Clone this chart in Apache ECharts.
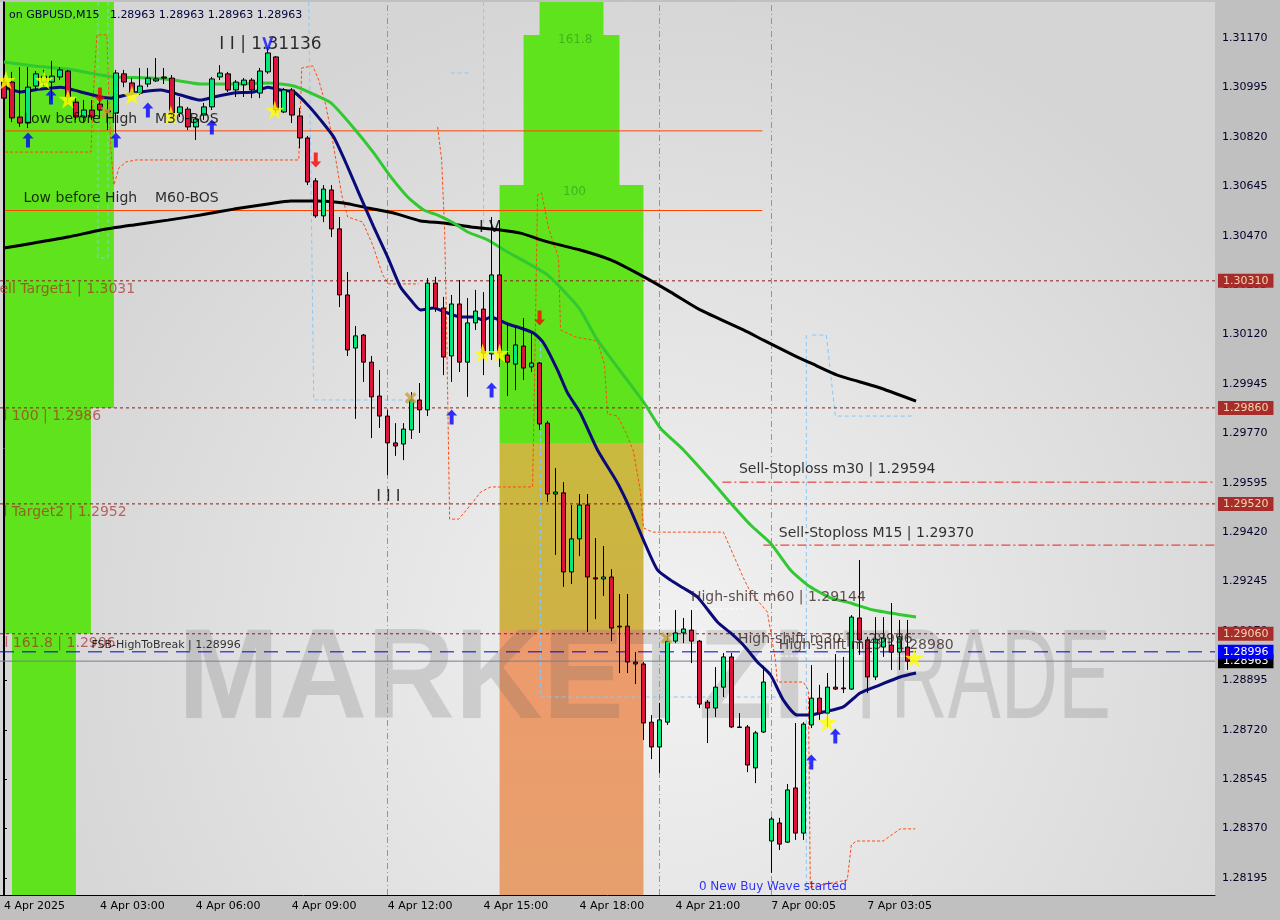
<!DOCTYPE html>
<html><head><meta charset="utf-8">
<script src="https://cdn.jsdelivr.net/npm/echarts@6/dist/echarts.min.js"></script>
<style>html,body{margin:0;padding:0;background:#c0c0c0}#c{width:1280px;height:920px}</style>
</head><body><div id="c"></div><script>
// ---------------- DATA ----------------
const timeTicks = [[0,'4 Apr 2025'],[12,'4 Apr 03:00'],[24,'4 Apr 06:00'],[36,'4 Apr 09:00'],[48,'4 Apr 12:00'],[60,'4 Apr 15:00'],[72,'4 Apr 18:00'],[84,'4 Apr 21:00'],[96,'7 Apr 00:05'],[108,'7 Apr 03:05']];
const slotCount = 152;
const priceTicks = [1.28195,1.28370,1.28545,1.28720,1.28895,1.29070,1.29245,1.29420,1.29595,1.29770,1.29945,1.30120,1.30295,1.30470,1.30645,1.30820,1.30995,1.31170];
const priceRange = [1.281348, 1.312975];
// [open, close, low, high]
const candles = [
[1.31014,1.30957,1.30933,1.31050],[1.31014,1.30887,1.30872,1.31050],[1.30890,1.30869,1.30855,1.31067],[1.30869,1.30996,1.30851,1.31067],
[1.31000,1.31043,1.30986,1.31053],[1.31014,1.31035,1.31000,1.31057],[1.31014,1.31035,1.30950,1.31089],[1.31032,1.31057,1.31021,1.31067],
[1.31053,1.30961,1.30940,1.31057],[1.30943,1.30890,1.30880,1.30961],[1.30890,1.30915,1.30869,1.30950],[1.30915,1.30890,1.30880,1.30950],
[1.30936,1.30915,1.30887,1.30968],[1.30915,1.30908,1.30844,1.30950],[1.30904,1.31046,1.30834,1.31057],[1.31043,1.31014,1.30996,1.31057],
[1.31011,1.30979,1.30968,1.31028],[1.30975,1.31000,1.30968,1.31064],[1.31007,1.31028,1.30996,1.31064],[1.31018,1.31025,1.31014,1.31099],
[1.31032,1.31028,1.31007,1.31064],[1.31028,1.30904,1.30890,1.31039],[1.30904,1.30926,1.30890,1.30961],[1.30918,1.30855,1.30844,1.30926],
[1.30855,1.30883,1.30809,1.30890],[1.30897,1.30926,1.30880,1.30940],[1.30926,1.31025,1.30915,1.31032],[1.31032,1.31046,1.31021,1.31074],
[1.31043,1.30986,1.30979,1.31050],[1.30986,1.31014,1.30961,1.31021],[1.31004,1.31021,1.30961,1.31028],[1.31021,1.30986,1.30957,1.31028],
[1.30975,1.31053,1.30957,1.31064],[1.31050,1.31117,1.31043,1.31136],[1.31103,1.30915,1.30904,1.31106],[1.30908,1.30986,1.30904,1.30993],
[1.30986,1.30897,1.30869,1.30993],[1.30894,1.30816,1.30780,1.30922],[1.30816,1.30660,1.30649,1.30823],[1.30664,1.30540,1.30533,1.30674],
[1.30540,1.30635,1.30518,1.30649],[1.30632,1.30494,1.30465,1.30649],[1.30494,1.30260,1.30217,1.30536],[1.30260,1.30065,1.30044,1.30341],
[1.30072,1.30115,1.29821,1.30150],[1.30118,1.30022,1.29952,1.30122],[1.30022,1.29899,1.29753,1.30044],[1.29902,1.29831,1.29789,1.29994],
[1.29831,1.29736,1.29622,1.29853],[1.29736,1.29725,1.29690,1.29806],[1.29732,1.29785,1.29675,1.29806],[1.29782,1.29888,1.29750,1.29916],
[1.29888,1.29853,1.29771,1.29948],[1.29853,1.30302,1.29831,1.30320],[1.30302,1.30214,1.30200,1.30324],[1.30214,1.30040,1.29976,1.30253],
[1.30044,1.30228,1.29952,1.30260],[1.30228,1.30022,1.29987,1.30313],[1.30022,1.30161,1.29899,1.30249],[1.30161,1.30203,1.30136,1.30278],
[1.30210,1.30054,1.29976,1.30270],[1.30051,1.30331,1.30030,1.30536],[1.30331,1.30054,1.30005,1.30525],[1.30047,1.30022,1.29902,1.30161],
[1.30015,1.30083,1.29923,1.30146],[1.30079,1.30001,1.29959,1.30178],[1.30005,1.30019,1.29987,1.30125],[1.30019,1.29803,1.29782,1.30022],
[1.29806,1.29555,1.29527,1.29814],[1.29555,1.29562,1.29339,1.29647],[1.29559,1.29279,1.29226,1.29597],[1.29279,1.29396,1.29236,1.29516],
[1.29396,1.29516,1.29335,1.29555],[1.29516,1.29261,1.29066,1.29555],[1.29258,1.29254,1.29112,1.29399],[1.29254,1.29261,1.29194,1.29371],
[1.29261,1.29080,1.29034,1.29289],[1.29087,1.29084,1.28921,1.29201],[1.29087,1.28960,1.28921,1.29201],[1.28960,1.28953,1.28882,1.28995],
[1.28953,1.28744,1.28684,1.28960],[1.28747,1.28659,1.28616,1.28772],[1.28659,1.28755,1.28567,1.28815],[1.28747,1.29034,1.28737,1.29063],
[1.29034,1.29063,1.29027,1.29144],[1.29063,1.29077,1.29027,1.29116],[1.29073,1.29034,1.28956,1.29144],[1.29034,1.28811,1.28797,1.29038],
[1.28818,1.28797,1.28673,1.28825],[1.28797,1.28871,1.28765,1.28942],[1.28871,1.28978,1.28836,1.28992],[1.28978,1.28730,1.28726,1.28992],
[1.28730,1.28728,1.28726,1.28779],[1.28730,1.28595,1.28570,1.28737],[1.28585,1.28709,1.28531,1.28716],[1.28712,1.28889,1.28709,1.28946],
[1.28326,1.28404,1.28213,1.28411],[1.28390,1.28315,1.28294,1.28408],[1.28322,1.28507,1.28319,1.28528],[1.28514,1.28354,1.28330,1.28744],
[1.28354,1.28740,1.28330,1.28747],[1.28737,1.28832,1.28726,1.28949],[1.28832,1.28779,1.28755,1.28879],[1.28779,1.28871,1.28730,1.28921],
[1.28871,1.28864,1.28861,1.28988],[1.28868,1.28865,1.28850,1.28978],[1.28864,1.29119,1.28861,1.29126],[1.29116,1.29038,1.28985,1.29321],
[1.29038,1.28907,1.28850,1.29049],[1.28907,1.29041,1.28896,1.29119],[1.29013,1.29045,1.28978,1.29119],[1.29020,1.28995,1.28932,1.29169],
[1.28995,1.29049,1.28932,1.29109],[1.29013,1.28963,1.28932,1.29109]
];
// moving averages: [slot, price]
const maFast = [[0,1.30996],[2.1,1.30979],[4.6,1.30989],[7.1,1.30996],[9.6,1.30979],[12.1,1.30961],[13.4,1.30957],[16.25,1.30975],[19.6,1.30986],[22.1,1.30968],[24.6,1.30950],[26.25,1.30961],[28.75,1.30975],[31.25,1.30979],[33,1.30996],[34.6,1.30986],[36.25,1.30979],[38,1.30933],[39.6,1.30880],[41.25,1.30819],[43,1.30713],[44.6,1.30607],[46.25,1.30501],[48,1.30394],[49.6,1.30288],[50.9,1.30242],[52.1,1.30207],[53.75,1.30214],[55.5,1.30196],[57.1,1.30182],[58.75,1.30182],[60,1.30171],[60.9,1.30182],[63,1.30157],[64.6,1.30143],[66.25,1.30125],[67.5,1.30090],[69.25,1.29994],[70.5,1.29913],[72.1,1.29842],[74.25,1.29711],[76.75,1.29594],[78.4,1.29498],[80,1.29392],[81.75,1.29286],[83.4,1.29250],[85,1.29222],[86.75,1.29190],[89.25,1.29102],[90.9,1.29063],[92.5,1.29020],[94.25,1.28960],[95.9,1.28914],[97.5,1.28825],[99.25,1.28772],[100.9,1.28772],[102.5,1.28783],[105,1.28801],[107.1,1.28850],[109.6,1.28879],[112.1,1.28907],[114.1,1.28921]];
const maMid = [[0,1.31085],[3.75,1.31071],[8,1.31060],[12.1,1.31039],[13.75,1.31032],[18.4,1.31028],[21.25,1.31021],[24.6,1.31007],[28.75,1.31007],[33,1.31011],[36.25,1.31000],[38.4,1.30975],[40.9,1.30940],[43.75,1.30851],[46.25,1.30763],[48.4,1.30678],[50.5,1.30607],[52.5,1.30561],[54.25,1.30543],[56.25,1.30515],[58,1.30483],[60.5,1.30455],[63,1.30412],[65.5,1.30373],[68,1.30331],[70.5,1.30260],[72.1,1.30207],[74.25,1.30100],[80,1.29881],[82.1,1.29789],[85,1.29711],[88.75,1.29594],[90.9,1.29523],[93.4,1.29445],[95.9,1.29381],[98.4,1.29286],[100.5,1.29233],[103.4,1.29187],[105.9,1.29169],[108.75,1.29144],[114.1,1.29119]];
const maSlow = [[0,1.30426],[3.75,1.30444],[8,1.30465],[12.1,1.30490],[16.25,1.30508],[20.5,1.30525],[24.6,1.30543],[28.75,1.30564],[33,1.30582],[35.9,1.30593],[39.25,1.30593],[42.5,1.30586],[45.5,1.30568],[48.75,1.30550],[52.1,1.30522],[55,1.30515],[58.4,1.30501],[62.1,1.30490],[64.6,1.30479],[68,1.30448],[72.1,1.30419],[75.9,1.30384],[79.6,1.30331],[83.4,1.30270],[87.1,1.30207],[92.5,1.30136],[95,1.30100],[98.75,1.30047],[100.9,1.30019],[104.25,1.29976],[109.25,1.29934],[114.1,1.29884]];
// stepped indicator lines [slot, price]
const stepUpperA = [[0.125,1.30766],[10.875,1.30766],[11.125,1.30950],[11.625,1.31181],[12.875,1.31181],[13.125,1.30950],[13.375,1.30773],[13.75,1.30649],[14.375,1.30710],[15.25,1.30731],[16.5,1.30738],[36.875,1.30738],[37.25,1.31064],[38.625,1.31071],[39.375,1.31021],[40.25,1.30933],[41,1.30826],[41.625,1.30720],[42.25,1.30614],[43,1.30536],[44.875,1.30518],[46.125,1.30437],[47.375,1.30331],[48.125,1.30299],[51.875,1.30299]];
const stepUpperB = [[54.25,1.30855],[54.75,1.30738],[55.125,1.30490],[55.375,1.30136],[55.75,1.29466],[56.875,1.29466],[58.375,1.29516],[59.625,1.29562],[60.875,1.29580],[66.125,1.29580],[66.375,1.29959],[66.75,1.30614],[67.25,1.30621],[68.125,1.30497],[69.375,1.30391],[69.625,1.30136],[71.5,1.30111],[74.25,1.30097],[75.125,1.30012],[75.5,1.29838],[76.75,1.29831],[77.75,1.29775],[78.75,1.29707],[79.625,1.29562],[80,1.29435],[81.125,1.29420],[90,1.29420],[91.25,1.29339],[92.5,1.29258],[93.375,1.29208],[95.5,1.29137],[96.5,1.28967],[96.75,1.28889],[100,1.28889],[100.625,1.28861],[100.875,1.28163]];
const stepLower = [[100.875,1.28163],[105.5,1.28188],[106,1.28312],[106.625,1.28326],[110,1.28326],[110.875,1.28344],[112.125,1.28369],[114,1.28369]];
const boxLines = [
  [[11.75,1.31298],[11.75,1.30391],[13,1.30391],[13,1.31298]],
  [[38.125,1.31298],[38.75,1.29888],[50.875,1.29888]],
  [[60,1.31298],[60,1.30490]],
  [[55.875,1.31046],[58.375,1.31046]],
  [[67.125,1.30100],[67.125,1.28836],[97.125,1.28836]],
  [[100.375,1.30118],[100.375,1.281348]],
  [[101.125,1.30118],[102.875,1.30118],[104,1.29831],[114,1.29831]]
];
const sessionLines = [48, 82, 96];
const bosLevels = [[1.30841, 0.125, 94.875], [1.30559, 0.125, 94.875]];
const stopLevels = [[1.29597, 89.875, 151.5], [1.29374, 95, 151.5]];
const shiftLevels = [[1.29148, 85.875, 92.75], [1.28981, 95.875, 113.375]];
const targetLevels = [1.30310, 1.29860, 1.29520, 1.29060];
const fsbLevel = 1.28996;
const bidPrice = 1.28963;
// zones [slotFrom, priceFrom, slotTo, priceTo]
const greenZones = [[0.125,1.312975,13.75,1.29860],[0.125,1.29860,10.875,1.29060],[1,1.29060,9,1.281348],[62,1.29736,80,1.30649],[65,1.30649,77,1.31181],[67,1.31181,75,1.312975]];
const orangeZone = [62,1.281348,80,1.29736];
// markers [slot, price]
const buyArrows = [[3,1.30809],[5.875,1.30961],[14,1.30809],[18,1.30915],[26,1.30855],[56,1.29828],[61,1.29923],[101,1.28606],[104,1.28698]];
const sellArrows = [[12,1.30968],[39,1.30738],[67,1.30178]];
const stars = [[0.25,1.31021],[5,1.31021],[8,1.30954],[16,1.30968],[20.875,1.30897],[33.875,1.30915],[59.875,1.30054],[62,1.30054],[103,1.28747],[113.875,1.28974]];
const crosses = [[12.875,1.30908],[50.875,1.29895],[82.875,1.29045]];
const vMarks = [[33,1.31150]];
// text annotations [slot, price, text]
const blackNotes = [[2.375,1.30883,'Low before High    M30-BOS'],[2.375,1.30603,'Low before High    M60-BOS'],[91.875,1.29644,'Sell-Stoploss m30 | 1.29594'],[96.875,1.29417,'Sell-Stoploss M15 | 1.29370']];
const shiftNotes = [[85.875,1.29190,'High-shift m60 | 1.29144'],[91.75,1.29041,'High-shift m30 | 1.28996'],[96.875,1.29020,'High-shift m15 | 1.28980']];
const targetNotes = [[-0.625,1.30281,'ell Target1 | 1.3031'],[-0.125,1.29831,'l 100 | 1.2986'],[-0.125,1.29491,'l Target2 | 1.2952'],[0,1.29027,'l 161.8 | 1.2906']];
const fsbNotes = [[10.875,1.29020,'FSB-HighToBreak | 1.28996']];
const waveBig = [[26.875,1.31145,'I I | 1.31136']];
const waveSmall = [[59.375,1.30497,'I V'],[46.5,1.29544,'I I I']];
const waveNote = [[86.875,1.28163,'0 New Buy Wave started']];
const zoneNotes = [[69.25,1.31163,'161.8'],[69.875,1.30625,'100']];
const headerText = 'on GBPUSD,M15   1.28963 1.28963 1.28963 1.28963';

// ---------------- BUILD ----------------
const FONT = 'DejaVu Sans';
const cats = [];
for (let i = 0; i < slotCount; i++) cats.push('');
timeTicks.forEach(t => { cats[t[0]] = t[1]; });
const showTick = (idx, val) => val !== '';
const xLo = -0.5, xHi = slotCount - 0.5;

const arrowPath = 'path://M5,0 L10,6 L6.8,6 L6.8,15 L3.2,15 L3.2,6 L0,6 Z';
const starPath = 'path://M50,0 L61,35 L98,35 L68,57 L79,91 L50,70 L21,91 L32,57 L2,35 L39,35 Z';
const crossPath = 'path://M0,2 L2,0 L5,3 L8,0 L10,2 L7,5 L10,8 L8,10 L5,7 L2,10 L0,8 L3,5 Z';
const vPath = 'path://M0,0 L2.5,0 L5,8 L7.5,0 L10,0 L6,12 L4,12 Z';

function line(data, color, width, type, z, smooth) {
  return {type:'line', xAxisIndex:1, data, symbol:'none', silent:true, z, smooth: smooth || false,
    lineStyle:{color, width, type}, animation:false};
}
function level(price, color, type, bg, fg, z) {
  const s = line([[xLo, price], [xHi, price]], color, 1, type, z);
  s.endLabel = {show:true, distance:3, formatter: price.toFixed(5), backgroundColor:bg, color:fg,
    padding:[2,5,1,5], fontSize:11, fontFamily:FONT};
  s.clip = false;
  return s;
}
function notes(items, style, z) {
  return {type:'scatter', xAxisIndex:1, silent:true, clip:false, z: z || 20, symbolSize:1,
    itemStyle:{color:'rgba(0,0,0,0)'},
    data: items.map(a => ({value:[a[0], a[1]], name:a[2]})),
    label:Object.assign({show:true, position:'right', distance:0, formatter:p => p.name, fontFamily:FONT}, style)};
}
function markers(items, symbol, size, color, rotate) {
  return {type:'scatter', xAxisIndex:1, silent:true, clip:false, z:15, symbol, symbolSize:size,
    symbolRotate: rotate || 0, itemStyle:{color}, data: items};
}
function rect(z, color) {
  return [{coord:[z[0], z[1]], itemStyle:{color}}, {coord:[z[2], z[3]]}];
}

const series = [];
// zones
series.push({type:'line', xAxisIndex:1, data:[[0,1.3]], symbol:'none', lineStyle:{opacity:0}, silent:true, z:1,
  markArea:{silent:true, data: greenZones.map(g => rect(g, '#5fe31c')).concat([
    [{coord:[orangeZone[0], orangeZone[1]], itemStyle:{color:{type:'linear',x:0,y:0,x2:0,y2:1,colorStops:[
      {offset:0,color:'#c9b93e'},{offset:0.41,color:'#cfb145'},{offset:0.42,color:'#ec9a6c'},{offset:0.6,color:'#ec9c6c'},{offset:1,color:'#e6a06c'}]}}},
     {coord:[orangeZone[2], orangeZone[3]]}]
  ])}});
// session verticals
series.push({type:'line', xAxisIndex:1, data:[], silent:true, z:3,
  markLine:{symbol:'none', silent:true, animation:false, label:{show:false},
    lineStyle:{color:'#00d2e6', width:1, type:[6,3,1,3]},
    data: sessionLines.map(v => ({xAxis:v}))}});
// box lines (light blue)
boxLines.forEach(b => series.push(line(b, '#88c8f8', 1, [4,3], 3)));
// stepped orange lines
[stepUpperA, stepUpperB, stepLower].forEach(s => series.push(line(s, '#ff4a10', 1, [3,2], 4)));
// BOS lines
bosLevels.forEach(l => series.push(line([[l[1], l[0]], [l[2], l[0]]], '#ff4500', 1, 'solid', 4)));
// stoploss lines
stopLevels.forEach(l => series.push(line([[l[1], l[0]], [l[2], l[0]]], '#e8201c', 1, [9,3,2,3], 4)));
// shift lines
shiftLevels.forEach(l => series.push(line([[l[1], l[0]], [l[2], l[0]]], '#ffffff', 1, [3,2], 4)));
// level lines + price tags
targetLevels.forEach(p => series.push(level(p, '#8b1c1c', [3,3], '#a82c2c', '#f0d8b0', 5)));
series.push(level(bidPrice, '#708090', 'solid', '#000000', '#ffffff', 5));
series.push(level(fsbLevel, '#0000d0', [14,8], '#0000ff', '#ffffff', 5));
// moving averages
series.push(line(maSlow, '#000000', 3, 'solid', 6, 0.2));
series.push(line(maMid, '#32c832', 3, 'solid', 6, 0.2));
series.push(line(maFast, '#0a0a78', 3, 'solid', 7, 0.2));
// candles
series.push({type:'candlestick', xAxisIndex:0, data:candles, barWidth:5, z:10, silent:true, animation:false,
  itemStyle:{color:'#00e87a', color0:'#dc143c', borderColor:'#000000', borderColor0:'#000000', borderWidth:1}});
// markers
series.push(markers(buyArrows, arrowPath, [11,15], '#0000ff'));
series.push(markers(sellArrows, arrowPath, [11,15], '#ff0000', 180));
series.push(markers(stars, starPath, 19, '#ffff00'));
series.push(markers(crosses, crossPath, 12, '#c8a040'));
series.push(markers(vMarks, vPath, [11,13], '#1010ff'));
// notes
series.push(notes(blackNotes, {color:'#000000', fontSize:14}));
series.push(notes(shiftNotes, {color:'#3a2626', fontSize:14}));
series.push(notes(targetNotes, {color:'rgba(170,40,40,0.85)', fontSize:14}));
series.push(notes(fsbNotes, {color:'#000000', fontSize:11}));
series.push(notes(waveBig, {color:'#000000', fontSize:17}));
series.push(notes(waveSmall, {color:'#000000', fontSize:16}));
series.push(notes(waveNote, {color:'#0000ff', fontSize:12}));
series.push(notes(zoneNotes, {color:'rgba(40,150,30,0.75)', fontSize:12}, 2));

const option = {
  animation:false,
  backgroundColor:'#c0c0c0',
  title:{text:headerText, left:4, top:5, textStyle:{fontSize:11, fontWeight:'normal', color:'#000040', fontFamily:FONT}},
  graphic:[
    {type:'text', x:178, y:683, z:2, scaleX:0.95, silent:true, style:{text:'MARKETZI', font:'bold 128px "Liberation Sans"', fill:'rgba(90,90,90,0.2)', verticalAlign:'middle', textVerticalAlign:'middle'}},
    {type:'text', x:842, y:683, z:2, scaleX:0.62, silent:true, style:{text:'TRADE', font:'128px "Liberation Sans"', fill:'rgba(90,90,90,0.2)', verticalAlign:'middle', textVerticalAlign:'middle'}}
  ],
  grid:{left:-1, right:65, top:2, bottom:25, show:true, borderWidth:0,
    backgroundColor:{type:'radial', x:0.55, y:0.72, r:0.75, colorStops:[{offset:0,color:'#f2f2f2'},{offset:1,color:'#d5d5d5'}]}},
  xAxis:[
    {type:'category', data:cats, boundaryGap:true,
      axisLine:{lineStyle:{color:'#000', width:1}},
      axisTick:{alignWithLabel:true, interval:showTick, length:4, lineStyle:{color:'#000'}},
      axisLabel:{interval:showTick, align:'left', color:'#000', fontSize:11, fontFamily:FONT, margin:6},
      splitLine:{show:false}},
    {type:'value', min:xLo, max:xHi, show:false}
  ],
  yAxis:[
    {type:'value', position:'right', min:priceRange[0], max:priceRange[1], scale:true,
      axisLine:{show:true, lineStyle:{color:'#000', width:1}},
      axisTick:{show:true, length:3, customValues:priceTicks, lineStyle:{color:'#000'}},
      axisLabel:{customValues:priceTicks, color:'#000028', fontSize:11, fontFamily:FONT, margin:7, formatter:v => v.toFixed(5)},
      splitLine:{show:false}},
    {type:'value', position:'left', offset:-3, min:priceRange[0], max:priceRange[1],
      axisLine:{show:true, lineStyle:{color:'#000', width:1}}, axisTick:{show:false}, axisLabel:{show:false}, splitLine:{show:false}}
  ],
  series
};
const chart = echarts.init(document.getElementById('c'));
chart.setOption(option);
</script></body></html>
